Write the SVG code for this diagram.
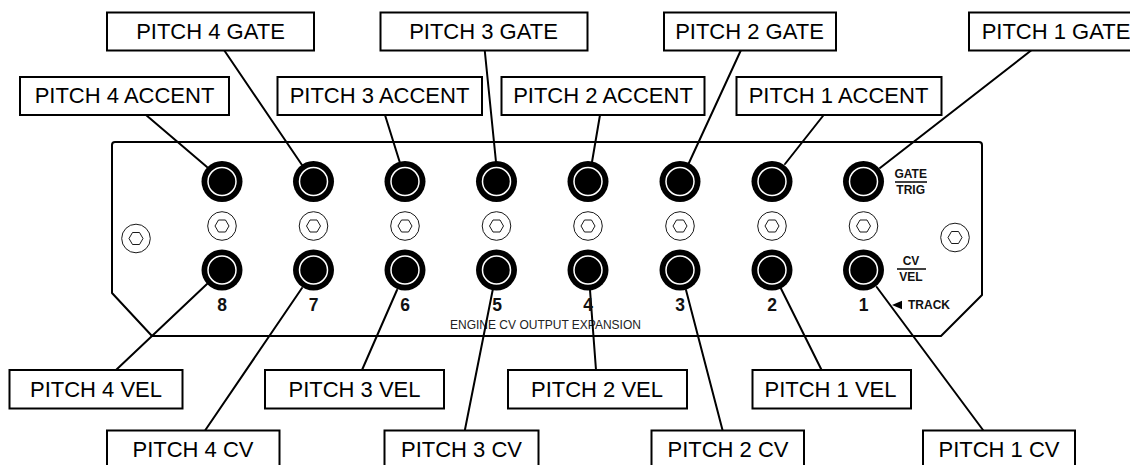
<svg xmlns="http://www.w3.org/2000/svg" width="1130" height="465" viewBox="0 0 1130 465">
<style>
.bg{fill:#fff}
.box rect{fill:#fff;stroke:#000;stroke-width:2}
.box text{font-family:"Liberation Sans",Arial,sans-serif;font-size:22px;fill:#000;text-anchor:middle}
.panel{fill:#fff;stroke:#000;stroke-width:2;stroke-linejoin:round}
#connectors line{stroke:#000;stroke-width:2;stroke-linecap:round}
.jo{fill:#000}
.jr{fill:none;stroke:#fff;stroke-width:1.5}
.so{fill:#fff;stroke:#000;stroke-width:.9}
.sh{fill:#fff;stroke:#000;stroke-width:.9}
.num{font-family:"Liberation Sans",Arial,sans-serif;font-weight:bold;font-size:17.5px;fill:#111;text-anchor:middle}
.lab{font-family:"Liberation Sans",Arial,sans-serif;font-weight:bold;font-size:12px;fill:#111;text-anchor:middle}
.title{font-family:"Liberation Sans",Arial,sans-serif;font-size:12px;fill:#222;text-anchor:middle}
</style>
<defs>
<g id="jack"><circle class="jo" r="20.5"/><circle class="jr" r="14"/></g>
<g id="screw"><circle class="so" r="14.3"/><polygon class="sh" points="-7,0 -3.5,-6 3.5,-6 7,0 3.5,6 -3.5,6"/></g>
</defs>
<rect class="bg" width="1130" height="465"/>
<g id="panel">
<path class="panel" d="M115 142H979Q982 142 982 145V295L941 336H152L112 293V145Q112 142 115 142Z"/>
<text class="title" x="545.5" y="329">ENGINE CV OUTPUT EXPANSION</text>
<text class="lab" x="910.7" y="178">GATE</text><path d="M895 182H927" stroke="#000" stroke-width="1.5"/><text class="lab" x="910.7" y="194">TRIG</text>
<text class="lab" x="911" y="265">CV</text><path d="M897 269H926" stroke="#000" stroke-width="1.5"/><text class="lab" x="911" y="281">VEL</text>
<polygon points="892,305 902,300.7 902,309.3" fill="#000"/>
<text class="lab" x="929" y="309.3">TRACK</text>
<use href="#screw" x="136" y="238.5"/><use href="#screw" x="955" y="237.5"/>
</g>
<g id="connectors">
<line x1="146" y1="115" x2="207" y2="167"/>
<line x1="224" y1="50" x2="302" y2="165"/>
<line x1="385" y1="115" x2="400" y2="163"/>
<line x1="484.7" y1="50" x2="496" y2="162"/>
<line x1="600" y1="115" x2="592" y2="162"/>
<line x1="741" y1="50" x2="688" y2="165"/>
<line x1="823.7" y1="115" x2="785" y2="164"/>
<line x1="1031.7" y1="50" x2="880" y2="168"/>
<line x1="207" y1="284" x2="116" y2="370"/>
<line x1="302" y1="288" x2="205.4" y2="430"/>
<line x1="397" y1="290" x2="362" y2="370"/>
<line x1="492.7" y1="290" x2="464.9" y2="430"/>
<line x1="590" y1="290" x2="596" y2="370"/>
<line x1="686" y1="290" x2="722.5" y2="430"/>
<line x1="780.7" y1="288" x2="821.6" y2="370"/>
<line x1="876.7" y1="287" x2="983" y2="430"/>
</g>
<g id="j8t"><use href="#jack" x="222" y="181.5"/></g><g id="j7t"><use href="#jack" x="313.5" y="181.5"/></g><g id="j6t"><use href="#jack" x="405" y="181.5"/></g><g id="j5t"><use href="#jack" x="496.5" y="181.5"/></g><g id="j4t"><use href="#jack" x="588" y="181.5"/></g><g id="j3t"><use href="#jack" x="680" y="181.5"/></g><g id="j2t"><use href="#jack" x="772" y="181.5"/></g><g id="j1t"><use href="#jack" x="863.5" y="181.5"/></g>
<g id="s8"><use href="#screw" x="222" y="226"/></g><g id="s7"><use href="#screw" x="313.5" y="226"/></g><g id="s6"><use href="#screw" x="405" y="226"/></g><g id="s5"><use href="#screw" x="496.5" y="226"/></g><g id="s4"><use href="#screw" x="588" y="226"/></g><g id="s3"><use href="#screw" x="680" y="226"/></g><g id="s2"><use href="#screw" x="772" y="226"/></g><g id="s1"><use href="#screw" x="863.5" y="226"/></g>
<g id="j8b"><use href="#jack" x="222" y="270"/><text class="num" x="222" y="311">8</text></g>
<g id="j7b"><use href="#jack" x="313.5" y="270"/><text class="num" x="313.5" y="311">7</text></g>
<g id="j6b"><use href="#jack" x="405" y="270"/><text class="num" x="405" y="311">6</text></g>
<g id="j5b"><use href="#jack" x="496.5" y="270"/><text class="num" x="497" y="311">5</text></g>
<g id="j4b"><use href="#jack" x="588" y="270"/><text class="num" x="588" y="311">4</text></g>
<g id="j3b"><use href="#jack" x="680" y="270"/><text class="num" x="680" y="311">3</text></g>
<g id="j2b"><use href="#jack" x="772" y="270"/><text class="num" x="772" y="311">2</text></g>
<g id="j1b"><use href="#jack" x="863.5" y="270"/><text class="num" x="863.5" y="311">1</text></g>
<g id="n4a" class="box"><rect x="20" y="77" width="209" height="38"/><text x="124.5" y="103">PITCH 4 ACCENT</text></g>
<g id="n4g" class="box"><rect x="107" y="12.5" width="207" height="38"/><text x="210.5" y="38.5">PITCH 4 GATE</text></g>
<g id="n3a" class="box"><rect x="277.5" y="77" width="204.5" height="38"/><text x="379.5" y="103">PITCH 3 ACCENT</text></g>
<g id="n3g" class="box"><rect x="380.5" y="12.5" width="207" height="38"/><text x="483.5" y="38.5">PITCH 3 GATE</text></g>
<g id="n2a" class="box"><rect x="501.5" y="77" width="203" height="38"/><text x="603" y="103">PITCH 2 ACCENT</text></g>
<g id="n2g" class="box"><rect x="664" y="12.5" width="172" height="38"/><text x="749.5" y="38.5">PITCH 2 GATE</text></g>
<g id="n1a" class="box"><rect x="736.5" y="77" width="205" height="38"/><text x="838.5" y="103">PITCH 1 ACCENT</text></g>
<g id="n1g" class="box"><rect x="969" y="12.5" width="171" height="38"/><text x="1056" y="38.5">PITCH 1 GATE</text></g>
<g id="n4v" class="box"><rect x="9.5" y="370" width="173" height="38.5"/><text x="96" y="397">PITCH 4 VEL</text></g>
<g id="n3v" class="box"><rect x="265" y="370" width="179" height="38.5"/><text x="354.5" y="397">PITCH 3 VEL</text></g>
<g id="n2v" class="box"><rect x="508" y="370" width="179" height="38.5"/><text x="597" y="397">PITCH 2 VEL</text></g>
<g id="n1v" class="box"><rect x="752.5" y="370" width="158.5" height="38.5"/><text x="830.5" y="397">PITCH 1 VEL</text></g>
<g id="n4c" class="box"><rect x="107" y="430.5" width="172.5" height="40"/><text x="193" y="456.5">PITCH 4 CV</text></g>
<g id="n3c" class="box"><rect x="384.5" y="430.5" width="154" height="40"/><text x="461.5" y="456.5">PITCH 3 CV</text></g>
<g id="n2c" class="box"><rect x="651.5" y="430.5" width="152.5" height="40"/><text x="728" y="456.5">PITCH 2 CV</text></g>
<g id="n1c" class="box"><rect x="923" y="430.5" width="152" height="40"/><text x="999" y="456.5">PITCH 1 CV</text></g>
</svg>
